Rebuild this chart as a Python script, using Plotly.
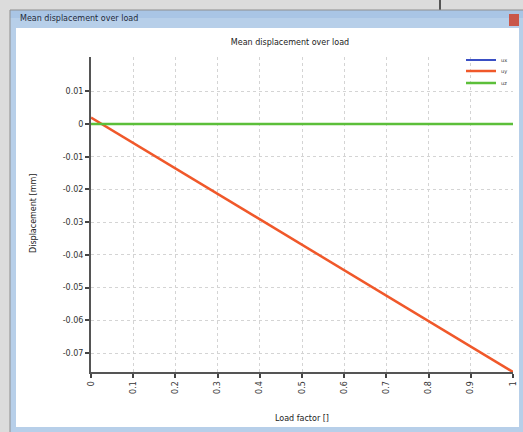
import plotly.graph_objects as go

# data
load_factor = [0, 1]
ux = [0, 0]
uy = [0.002, -0.0758]
uz = [0, 0]

x_ticks = [0, 0.1, 0.2, 0.3, 0.4, 0.5, 0.6, 0.7, 0.8, 0.9, 1]
x_labels = ['0', '0.1', '0.2', '0.3', '0.4', '0.5', '0.6', '0.7', '0.8', '0.9', '1']
y_ticks = [0.01, 0, -0.01, -0.02, -0.03, -0.04, -0.05, -0.06, -0.07]
y_labels = ['0.01', '0', '-0.01', '-0.02', '-0.03', '-0.04', '-0.05', '-0.06', '-0.07']

W, H = 523, 432
L, R, T, B = 91, 10, 57, 60
pw, ph = W - L - R, H - T - B

def px(X):
    return (X - L) / pw

def py(Y):
    return (H - B - Y) / ph

font = 'DejaVu Sans'

fig = go.Figure()
fig.add_trace(go.Scatter(x=load_factor, y=ux, name='ux', mode='lines', legend='legend',
                         line=dict(color='#3a4fc4', width=2)))
fig.add_trace(go.Scatter(x=load_factor, y=uy, name='uy', mode='lines', legend='legend2',
                         line=dict(color='#f0582a', width=2.5)))
fig.add_trace(go.Scatter(x=load_factor, y=uz, name='uz', mode='lines', legend='legend3',
                         line=dict(color='#5cbf3a', width=2.5)))

# window decoration (screenshot frame)
def rect(x0, x1, y0, y1, color):
    return dict(type='rect', xref='paper', yref='paper', x0=px(x0), x1=px(x1),
                y0=py(y0), y1=py(y1), fillcolor=color, line=dict(width=0), layer='below')

def seg(x0, x1, y0, y1, color, w):
    return dict(type='line', xref='paper', yref='paper', x0=px(x0), x1=px(x1),
                y0=py(y0), y1=py(y1), line=dict(color=color, width=w), layer='below')

shapes = [
    rect(10, 530, 10, 440, '#b7cfe9'),
    rect(10, 530, 10, 18, '#a9c5e5'),
    rect(16, 519, 28, 427, 'white'),
    rect(509, 519, 14, 26, '#c9574a'),
    seg(440, 440, 0, 10, '#555555', 2),
    seg(10, 10, 10, 432, '#8f8f8f', 1),
    seg(10, 523, 10, 10, '#8f8f8f', 1),
]

annotations = [
    dict(text='Mean displacement over load', x=px(18), y=py(19), xref='paper', yref='paper',
         xanchor='left', yanchor='middle', showarrow=False,
         font=dict(family=font, size=8, color='#1e2a3a')),
    dict(text='Displacement [mm]', x=px(33), y=py(214), xref='paper', yref='paper',
         textangle=-90, xanchor='center', yanchor='middle', showarrow=False,
         font=dict(family=font, size=8, color='#222222')),
    dict(text='Load factor []', x=px(302), y=py(418), xref='paper', yref='paper',
         xanchor='center', yanchor='middle', showarrow=False,
         font=dict(family=font, size=8, color='#222222')),
]

leg = dict(xanchor='right', yanchor='middle', bgcolor='rgba(0,0,0,0)', itemwidth=30,
           font=dict(family=font, size=5, color='#333333'))

fig.update_layout(
    width=W, height=H,
    margin=dict(l=L, r=R, t=T, b=B),
    paper_bgcolor='#dcdcdc',
    plot_bgcolor='white',
    title=dict(text='Mean displacement over load', x=290 / W, xref='container',
               y=1 - 42 / H, yref='container', xanchor='center', yanchor='middle',
               font=dict(family=font, size=8, color='#222222')),
    showlegend=True,
    legend=dict(leg, x=1, y=py(60)),
    legend2=dict(leg, x=1, y=py(71)),
    legend3=dict(leg, x=1, y=py(83)),
    shapes=shapes,
    annotations=annotations,
)

fig.update_xaxes(range=[0, 1], tickvals=x_ticks, ticktext=x_labels, tickangle=-90,
                 automargin=False,
                 showline=True, linecolor='#555555', linewidth=2,
                 ticks='outside', ticklen=4, tickcolor='#444444', tickwidth=2,
                 showgrid=True, gridcolor='#d4d4d4', griddash='dot', gridwidth=1,
                 zeroline=False, tickfont=dict(family=font, size=8, color='#333333'))
fig.update_yaxes(range=[-0.0758, 0.0205], tickvals=y_ticks, ticktext=y_labels,
                 automargin=False,
                 showline=True, linecolor='#555555', linewidth=2,
                 ticks='outside', ticklen=4, tickcolor='#444444', tickwidth=2,
                 showgrid=True, gridcolor='#d4d4d4', griddash='dot', gridwidth=1,
                 zeroline=False, tickfont=dict(family=font, size=8, color='#333333'))

# page sits flush with the window corner
fig.write_html('out.html', config={'displayModeBar': False},
               post_script="document.body.style.margin='0';")
